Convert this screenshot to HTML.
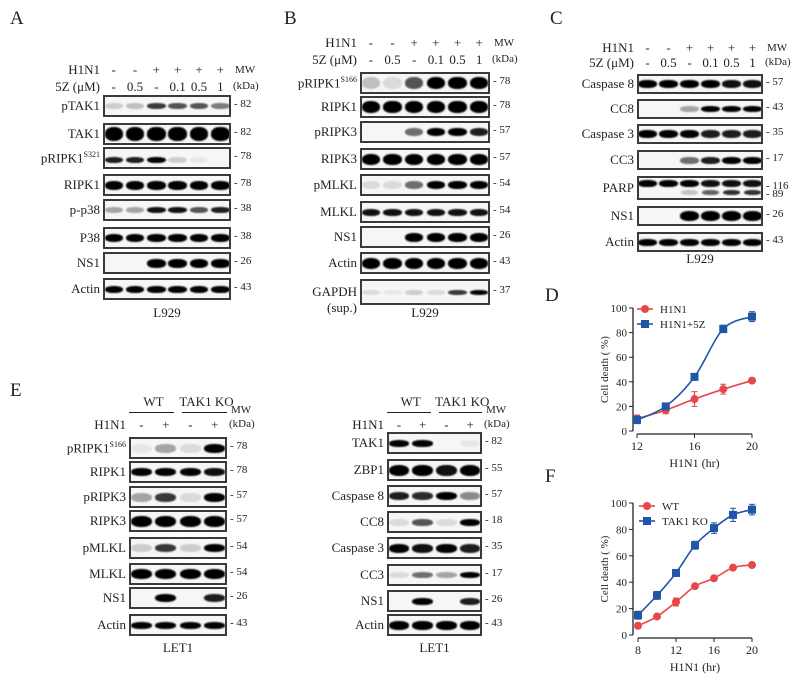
<!DOCTYPE html>
<html><head><meta charset="utf-8">
<style>
body{margin:0;width:798px;height:684px;background:#fff;position:relative;overflow:hidden;font-family:"Liberation Serif",serif;color:#222}
.t{position:absolute;white-space:nowrap;font-size:13px;line-height:1}
.pl{position:absolute;font-size:19px;font-family:"Liberation Serif",serif}
.box{position:absolute;border:2px solid #3a3a3a;background:#f6f6f6;box-sizing:border-box;overflow:hidden}
.band{position:absolute;background:#000;border-radius:45%;filter:blur(0.9px)}
.r{text-align:right}
.mw{font-size:11px}
</style></head><body>
<div class="pl" style="left:10px;top:8px">A</div>
<div class="pl" style="left:284px;top:8px">B</div>
<div class="pl" style="left:550px;top:8px">C</div>
<div class="pl" style="left:545px;top:285px">D</div>
<div class="pl" style="left:10px;top:380px">E</div>
<div class="pl" style="left:545px;top:466px">F</div>

<svg id="chartD" width="798" height="684" style="position:absolute;left:0;top:0"></svg>

<script>
const lanes6H = ['-','-','+','+','+','+'];
const lanes6Z = ['-','0.5','-','0.1','0.5','1'];
const blotARows = ['pTAK1','TAK1','pRIPK1','RIPK1','p-p38','P38','NS1','Actin'];
const blotAMW = ['82','82','78','78','38','38','26','43'];
const blotAInt = [[.15,.2,.7,.6,.6,.45],[1,1,1,1,1,1],[.8,.8,.9,.15,.05,0],[.9,.9,.9,.9,.9,.9],[.3,.3,.85,.85,.6,.8],[.9,.9,.9,.9,.9,.9],[0,0,1,1,1,1],[.9,.9,.9,.9,.9,.9]];
const blotBRows = ['pRIPK1','RIPK1','pRIPK3','RIPK3','pMLKL','MLKL','NS1','Actin','GAPDH'];
const blotBMW = ['78','78','57','57','54','54','26','43','37'];
const blotBInt = [[.2,.1,.6,1,1,1],[1,1,1,1,1,1],[0,0,.5,1,1,.8],[1,1,1,1,1,1],[.1,.1,.5,1,1,1],[.85,.85,.85,.85,.85,.85],[0,0,1,1,1,1],[1,1,1,1,1,1],[.1,.05,.15,.1,.7,.9]];
const blotCRows = ['Caspase 8','CC8','Caspase 3','CC3','PARP','NS1','Actin'];
const blotCMW = ['57','43','35','17','116','26','43'];
const blotCInt = [[.95,.95,.9,.9,.85,.85],[0,0,.3,.9,.9,.9],[1,.9,.9,.8,.8,.8],[0,0,.5,.8,.9,.9],[1,1,.9,.85,.85,.85],[0,0,1,1,1,1],[.9,.9,.9,.9,.9,.9]];
const parpLower = [0,0,.2,.6,.8,.8];
const lanes4H = ['-','+','-','+'];
const blotE1Rows = ['pRIPK1','RIPK1','pRIPK3','RIPK3','pMLKL','MLKL','NS1','Actin'];
const blotE1MW = ['78','78','57','57','54','54','26','43'];
const blotE1Int = [[.05,.3,.1,1],[.9,.9,.9,.85],[.3,.7,.1,.9],[1,1,1,1],[.15,.7,.15,1],[1,1,1,1],[0,1,0,.8],[.9,.9,.9,.9]];
const blotE2Rows = ['TAK1','ZBP1','Caspase 8','CC8','Caspase 3','CC3','NS1','Actin'];
const blotE2MW = ['82','55','57','18','35','17','26','43'];
const blotE2Int = [[.9,.9,0,.05],[1,1,.85,.9],[.8,.75,1,.4],[.1,.6,.1,1],[.9,.85,.9,.8],[.1,.5,.3,1],[0,.9,0,.8],[1,1,1,1]];

function txt(x,y,s,cls,name,align){
  const d=document.createElement('div');
  d.className='t '+(cls||'');
  d.innerHTML=s;
  d.style.top=(y-7)+'px';
  if(align==='r'){d.style.right=(798-x)+'px';}else if(align==='c'){d.style.left=(x-30)+'px';d.style.width='60px';d.style.textAlign='center';}else{d.style.left=x+'px';}
  
  
  document.body.appendChild(d);return d;
}
function blot(cfg){
  const n=cfg.ints[0].length, w=cfg.x1-cfg.x0, lw=w/n;
  cfg.rows.forEach((lab,i)=>{
    const cy=cfg.ys[i], h=cfg.hs?cfg.hs[i]:22;
    const b=document.createElement('div');
    b.className='box';
    b.style.left=cfg.x0+'px';b.style.top=(cy-h/2)+'px';b.style.width=w+'px';b.style.height=h+'px';
    
    
    document.body.appendChild(b);
    cfg.ints[i].forEach((v,j)=>{
      if(v<=0)return;
      const bd=document.createElement('div');
      bd.className='band';
      const bh=cfg.bh?cfg.bh[i]:8;
      bd.style.left=(j*lw+lw*0.07-2)+'px';bd.style.width=(lw*0.86)+'px';
      bd.style.top=((h-4)/2-bh/2+(cfg.off?cfg.off[i]:0))+'px';bd.style.height=bh+'px';bd.style.opacity=Math.min(1,v*1.1);
      
      
      b.appendChild(bd);
    });
    if(cfg.extra&&cfg.extra[i]){cfg.extra[i].forEach((v,j)=>{if(v<=0)return;const bd=document.createElement('div');bd.className='band';bd.style.left=(j*lw+lw*0.1-2)+'px';bd.style.width=(lw*0.8)+'px';bd.style.top=(h-12)+'px';bd.style.height='5px';bd.style.opacity=v;
      
      
      b.appendChild(bd);});}
    let label=lab;
    if(cfg.sup&&cfg.sup[i])label+='<sup style="font-size:8px">'+cfg.sup[i]+'</sup>';
    txt(cfg.x0-3,cy,label,'','label-'+cfg.id+'-'+lab.toLowerCase().replace(/[^a-z0-9]+/g,'-'),'r');
    txt(cfg.x1+3,cy,'- '+cfg.mw[i],'mw','mw-'+cfg.id+'-'+i);
  });
  const lx=(cfg.x1-cfg.x0)/n;
  cfg.hdr.forEach((row,k)=>{
    txt(cfg.x0-3,cfg.hy[k],row.name,'','header-'+cfg.id+'-'+k,'r');
    row.vals.forEach((v,j)=>txt(cfg.x0+lx*(j+0.5),cfg.hy[k],v,'','header-val-'+cfg.id,'c'));
  });
  txt(cfg.x1+4,cfg.hy[cfg.hy.length-2]+2,'MW','mw','mw-title-'+cfg.id);
  txt(cfg.x1+2,cfg.hy[cfg.hy.length-1]+1,'(kDa)','mw','kda-title-'+cfg.id);
  txt((cfg.x0+cfg.x1)/2,cfg.cellY,cfg.cell,'','cell-line-'+cfg.id,'c');
}
blot({id:'a',x0:103,x1:231,rows:blotARows,mw:blotAMW,ints:blotAInt,ys:[106,134,158,185,210,238,263,289],sup:[0,0,'S321'],bh:[6,14,6,9,6,8,9,7],off:[0,0,2,0,0,0,0,0],
 hdr:[{name:'H1N1',vals:lanes6H},{name:'5Z (μM)',vals:lanes6Z}],hy:[70,87],cell:'L929',cellY:313});
blot({id:'b',x0:360,x1:490,rows:blotBRows,mw:blotBMW,ints:blotBInt,ys:[83,107,132,159,185,212,237,263,292],hs:[22,22,22,22,22,22,22,22,26],sup:['S166'],bh:[12,12,8,11,8,7,9,11,5],
 hdr:[{name:'H1N1',vals:lanes6H},{name:'5Z (μM)',vals:lanes6Z}],hy:[43,60],cell:'L929',cellY:313});
txt(357,308,'(sup.)','','gapdh-sup-label','r');
blot({id:'c',x0:637,x1:763,rows:blotCRows,mw:blotCMW,ints:blotCInt,ys:[84,109,134,160,188,216,242],hs:[20,20,20,20,24,20,20],bh:[8,6,8,7,7,10,7],off:[0,0,0,0,-5,0,0],extra:[0,0,0,0,parpLower],
 hdr:[{name:'H1N1',vals:lanes6H},{name:'5Z (μM)',vals:lanes6Z}],hy:[48,63],cell:'L929',cellY:259});
txt(766,196,'- 89','mw','mw-c-89');
blot({id:'e1',x0:129,x1:227,rows:blotE1Rows,mw:blotE1MW,ints:blotE1Int,ys:[448,472,497,521,548,574,598,625],sup:['S166'],bh:[9,8,9,11,8,10,8,7],
 hdr:[{name:'',vals:['','','','']},{name:'H1N1',vals:lanes4H}],hy:[410,425],cell:'LET1',cellY:648});
blot({id:'e2',x0:387,x1:482,rows:blotE2Rows,mw:blotE2MW,ints:blotE2Int,ys:[443,470,496,522,548,575,601,625],bh:[7,11,8,7,9,6,7,9],
 hdr:[{name:'',vals:['','','','']},{name:'H1N1',vals:lanes4H}],hy:[410,425],cell:'LET1',cellY:648});
[[129,227,'e1'],[387,482,'e2']].forEach(([a,b,id])=>{
  const m=(a+b)/2;
  txt((a+m)/2,402,'WT','','group-wt-'+id,'c');
  txt((m+b)/2+4,402,'TAK1 KO','','group-ko-'+id,'c');
  [[a,m-4],[m+4,b]].forEach(([p,q])=>{const l=document.createElement('div');l.style.cssText='position:absolute;height:1px;background:#222;left:'+p+'px;width:'+(q-p)+'px;top:412px';
    
    
    document.body.appendChild(l);});
});
</script>

<script>
const dX = [12,14,16,18,20];
const dH1N1 = [10,17,26,34,41];
const dH1N1Err = [3,3,6,4,2];
const d5Z = [9,20,44,83,93];
const d5ZErr = [3,2,2,3,4];
const dXTicks = [12,16,20];
const yTicks = [0,20,40,60,80,100];
const fX = [8,10,12,14,16,18,20];
const fWT = [7,14,25,37,43,51,53];
const fWTErr = [2,1,3,1,1,1,1];
const fKO = [15,30,47,68,81,91,95];
const fKOErr = [3,3,2,3,4,5,4];
const fXTicks = [8,12,16,20];

const NS='http://www.w3.org/2000/svg';
const svg=document.getElementById('chartD');
function el(tag,attrs,parent,name){const e=document.createElementNS(NS,tag);for(const k in attrs)e.setAttribute(k,attrs[k]);(parent||svg).appendChild(e);
  
  
  return e;}
function chart(c){
  const sx=v=>c.px0+(v-c.xmin)/(c.xmax-c.xmin)*(c.px1-c.px0);
  const sy=v=>c.py0-(v/100)*(c.py0-c.py1);
  const g=el('g',{},svg,'chart-'+c.id);
  el('line',{x1:c.ax,y1:c.py0,x2:c.ax,y2:c.py1,stroke:'#222','stroke-width':1.3},g,'y-axis-'+c.id);
  el('line',{x1:c.px0,y1:c.py0+3,x2:c.px1,y2:c.py0+3,stroke:'#222','stroke-width':1.3},g,'x-axis-'+c.id);
  c.yt.forEach(t=>{el('line',{x1:c.ax-4,x2:c.ax,y1:sy(t),y2:sy(t),stroke:'#222'},g,'y-tick');
    const tx=el('text',{x:c.ax-6,y:sy(t)+4,'text-anchor':'end','font-size':11,'font-family':'Liberation Serif, serif',fill:'#222'},g,'y-tick-label');tx.textContent=t;});
  c.xt.forEach(t=>{el('line',{x1:sx(t),x2:sx(t),y1:c.py0+3,y2:c.py0+7,stroke:'#222'},g,'x-tick');
    const tx=el('text',{x:sx(t),y:c.py0+19,'text-anchor':'middle','font-size':12,'font-family':'Liberation Serif, serif',fill:'#222'},g,'x-tick-label');tx.textContent=t;});
  const xl=el('text',{x:(c.px0+c.px1)/2,y:c.py0+36,'text-anchor':'middle','font-size':12,'font-family':'Liberation Serif, serif',fill:'#222'},g,'x-axis-title-'+c.id);xl.textContent='H1N1 (hr)';
  const yl=el('text',{x:0,y:0,'text-anchor':'middle','font-size':11,'font-family':'Liberation Serif, serif',fill:'#222',transform:'translate('+(c.ax-25)+','+((c.py0+c.py1)/2)+') rotate(-90)'},g,'y-axis-title-'+c.id);yl.textContent='Cell death ( %)';
  c.series.forEach((s,si)=>{
    const pts=s.x.map((x,i)=>[sx(x),sy(s.y[i])]);
    let d='M'+pts[0][0]+','+pts[0][1];
    for(let i=0;i<pts.length-1;i++){const p0=pts[Math.max(0,i-1)],p1=pts[i],p2=pts[i+1],p3=pts[Math.min(pts.length-1,i+2)];
      d+=' C'+(p1[0]+(p2[0]-p0[0])/6)+','+(p1[1]+(p2[1]-p0[1])/6)+' '+(p2[0]-(p3[0]-p1[0])/6)+','+(p2[1]-(p3[1]-p1[1])/6)+' '+p2[0]+','+p2[1];}
    el('path',{d:d,fill:'none',stroke:s.color,'stroke-width':1.6},g,'line-'+s.name);
    pts.forEach((p,i)=>{const e=s.err[i];
      el('line',{x1:p[0],x2:p[0],y1:sy(s.y[i]+e),y2:sy(s.y[i]-e),stroke:s.color,'stroke-width':1.2},g,'error-bar');
      el('line',{x1:p[0]-3,x2:p[0]+3,y1:sy(s.y[i]+e),y2:sy(s.y[i]+e),stroke:s.color},g,'error-cap');
      el('line',{x1:p[0]-3,x2:p[0]+3,y1:sy(s.y[i]-e),y2:sy(s.y[i]-e),stroke:s.color},g,'error-cap');
      if(s.shape==='c')el('circle',{cx:p[0],cy:p[1],r:4,fill:s.color},g,'point-'+s.name);
      else el('rect',{x:p[0]-4,y:p[1]-4,width:8,height:8,fill:s.color},g,'point-'+s.name);});
    const ly=c.legY+si*15;
    el('line',{x1:c.legX-8,x2:c.legX+8,y1:ly,y2:ly,stroke:s.color,'stroke-width':1.6},g,'legend-line');
    if(s.shape==='c')el('circle',{cx:c.legX,cy:ly,r:4,fill:s.color},g,'legend-marker');else el('rect',{x:c.legX-4,y:ly-4,width:8,height:8,fill:s.color},g,'legend-marker');
    const lt=el('text',{x:c.legX+15,y:ly+4,'font-size':11,'font-family':'Liberation Serif, serif',fill:'#222'},g,'legend-entry');lt.textContent=s.name;
  });
}
chart({id:'d',xmin:12,xmax:20,px0:637,px1:752,py0:431,py1:308,ax:633,xt:dXTicks,yt:yTicks,legX:645,legY:309,
  series:[{name:'H1N1',x:dX,y:dH1N1,err:dH1N1Err,color:'#e8474a',shape:'c'},{name:'H1N1+5Z',x:dX,y:d5Z,err:d5ZErr,color:'#1f56a8',shape:'s'}]});
chart({id:'f',xmin:8,xmax:20,px0:638,px1:752,py0:635,py1:503,ax:633,xt:fXTicks,yt:yTicks,legX:647,legY:506,
  series:[{name:'WT',x:fX,y:fWT,err:fWTErr,color:'#e8474a',shape:'c'},{name:'TAK1 KO',x:fX,y:fKO,err:fKOErr,color:'#1f56a8',shape:'s'}]});
</script>
</body></html>
